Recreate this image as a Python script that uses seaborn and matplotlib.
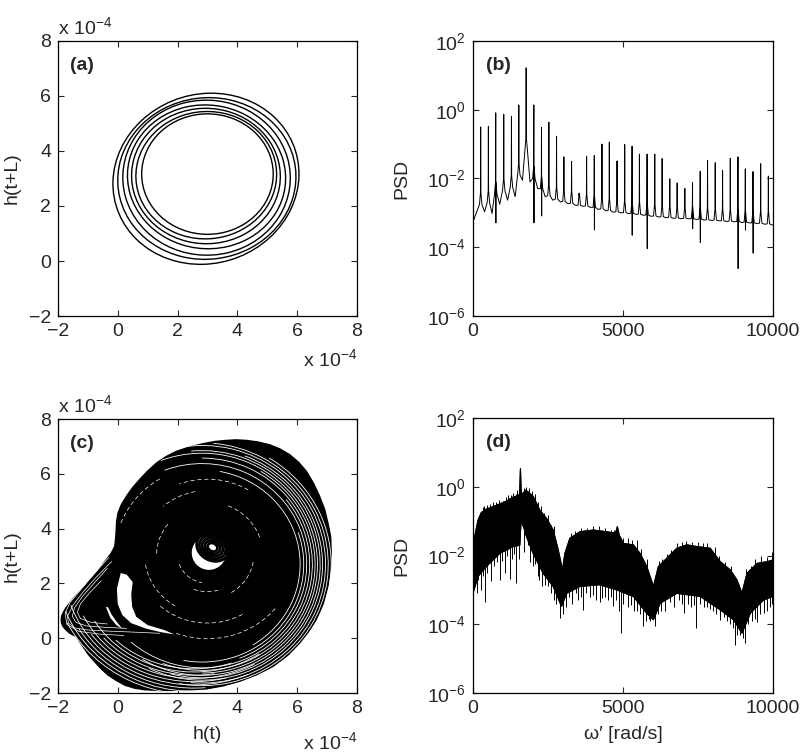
import numpy as np
import pandas as pd
import seaborn as sns
import matplotlib
matplotlib.use("Agg")
import matplotlib.pyplot as plt
from matplotlib.patches import Ellipse, Arc, Polygon
from matplotlib.ticker import FixedLocator, FuncFormatter, NullLocator

# ---------------- data (phase portraits in units of 1e-4) ----------------
# (a) quasi-periodic loops: centre, half-widths, tilt
a_cx = [2.95, 2.98, 2.97, 2.97, 2.95, 2.96, 3.00]
a_cy = [2.99, 3.00, 3.03, 3.06, 3.09, 3.12, 3.16]
a_rx = [3.20, 3.00, 2.80, 2.66, 2.49, 2.36, 2.20]
a_ry = [3.02, 2.92, 2.82, 2.60, 2.46, 2.31, 2.19]
a_ang = [45, 30, 15, -30, -15, 20, 0]

# (b) periodic PSD: line frequencies, line tops, feet (log10)
b_peak_f = [256, 512, 757, 1024, 1281, 1526, 1771, 2027, 2283, 2528,
            2784, 3029, 3285, 3541, 3786, 4042, 4298, 4543, 4800, 5056,
            5301, 5546, 5802, 6058, 6303, 6559, 6804, 7060, 7316, 7572,
            7817, 8073, 8318, 8575, 8831, 9076, 9332, 9588, 9844]
b_peak_top = [-0.50, -0.48, -0.09, -0.13, -0.20, 0.14, 1.22, 0.14, -0.52, -0.36,
              -0.77, -1.37, -1.50, -2.49, -1.35, -1.33, -1.00, -0.94, -1.49, -1.01,
              -1.06, -1.29, -1.29, -1.29, -1.42, -2.01, -2.13, -2.29, -2.12, -1.79,
              -1.47, -1.54, -1.76, -1.41, -1.37, -1.72, -1.80, -1.57, -1.93]
b_foot = [-2.75, -2.70, -2.45, -2.35, -2.25, -1.90, -1.15, -2.00, -2.30, -2.50,
          -2.60, -2.67, -2.72, -2.78, -2.80, -2.84, -2.88, -2.93, -2.97, -2.99,
          -3.01, -3.04, -3.06, -3.09, -3.11, -3.13, -3.15, -3.16, -3.17, -3.18,
          -3.20, -3.21, -3.23, -3.24, -3.25, -3.27, -3.29, -3.30, -3.32]
# baseline between lines (start, 38 gaps, end)
b_trough = [-3.26, -2.97, -3.02, -2.75, -2.63, -2.53, -2.05, -2.10, -2.29, -2.53,
            -2.63, -2.68, -2.73, -2.78, -2.81, -2.84, -2.90, -2.94, -2.98, -3.00,
            -3.02, -3.04, -3.07, -3.10, -3.12, -3.14, -3.16, -3.17, -3.17, -3.19,
            -3.21, -3.22, -3.23, -3.25, -3.26, -3.28, -3.29, -3.31, -3.33, -3.36]
b_dip_f = [757, 2027, 2283, 4042, 5301, 5802, 7316, 7572, 8831, 9076, 9332]
b_dip = [-3.29, -3.29, -3.09, -3.50, -3.65, -4.04, -3.46, -3.86, -4.62, -3.50, -4.17]

# (c) chaotic attractor: silhouette of the dense region
c_edge_x = [7.14, 7.12, 7.03, 6.92, 6.75, 6.55, 6.31, 6.05, 5.75, 5.42, 5.08, 4.70,
            4.30, 3.95, 3.63, 3.25, 2.85, 2.40, 1.96, 1.60, 1.29, 1.00, 0.73, 0.50,
            0.29, 0.12, 0.01, -0.04, -0.05, -0.07, -0.10,
            -0.22, -0.38, -0.55, -0.72, -0.95, -1.16, -1.40, -1.61, -1.75, -1.83,
            -1.88, -1.89, -1.88, -1.83, -1.73, -1.61, -1.50, -1.39,
            -1.28, -1.16, -0.98, -0.77, -0.56, -0.33, -0.05, 0.23, 0.55, 0.90, 1.45,
            1.96, 2.46, 2.96, 3.52, 4.08, 4.65, 5.19, 5.68, 6.08, 6.38, 6.64, 6.87,
            7.03, 7.11]
c_edge_y = [3.11, 3.70, 4.20, 4.70, 5.18, 5.65, 6.09, 6.42, 6.70, 6.91, 7.06, 7.16,
            7.22, 7.24, 7.22, 7.18, 7.10, 6.98, 6.82, 6.62, 6.39, 6.10, 5.79, 5.50,
            5.18, 4.87, 4.57, 4.25, 3.96, 3.65, 3.35,
            3.10, 2.87, 2.62, 2.38, 2.10, 1.83, 1.55, 1.28, 1.08, 0.92,
            0.80, 0.68, 0.55, 0.43, 0.30, 0.19, 0.12, 0.07,
            -0.12, -0.31, -0.60, -0.86, -1.11, -1.34, -1.54, -1.71, -1.82, -1.88, -1.91,
            -1.90, -1.88, -1.85, -1.74, -1.57, -1.33, -1.03, -0.63, -0.18, 0.24, 0.68, 1.25,
            1.89, 2.50]
# white crescent inside the fold
c_cres_x = [0.10, -0.03, 0.00, 0.15, 0.45, 0.95, 1.45, 1.90, 1.55, 1.00, 0.62, 0.48,
            0.45, 0.50, 0.30]
c_cres_y = [2.38, 1.80, 1.25, 0.85, 0.55, 0.35, 0.22, 0.14, 0.30, 0.48, 0.78, 1.15,
            1.60, 2.05, 2.32]
c_sliv_x = [-0.40, -0.25, -0.05, 0.15, -0.02, -0.20, -0.32]
c_sliv_y = [1.15, 0.75, 0.48, 0.35, 0.58, 0.85, 1.12]
# white gaps between loops of the main spiral (radii about one centre)
c_ring_r = [4.32, 4.22, 4.13, 4.03, 3.95, 3.86, 3.78, 3.69, 3.60, 3.50, 3.40, 3.28]
c_ring_t1 = [-80, -100, -95, -115, -105, -120, -90, -110, -130, -70, -100, -60]
c_ring_t2 = [60, 85, 100, 70, 95, 110, 60, 90, 40, 110, 20, 80]
# white gaps in the lower-left band of loops
c_low_r = [4.70, 4.58, 4.46, 4.34, 4.22, 4.10, 3.98, 3.86, 3.74]
c_low_t1 = [205, 200, 210, 198, 215, 205, 220, 210, 225]
c_low_t2 = [280, 290, 275, 295, 285, 300, 280, 305, 290]
# short white gaps in the dense interior: radius, start/end angle
c_in_gap_r = [1.00, 1.30, 1.55, 1.85, 2.10, 2.40, 2.65, 2.95, 3.10, 2.25, 1.70]
c_in_gap_t1 = [200, 250, 300, 20, 190, 230, 60, 250, 120, 100, 140]
c_in_gap_t2 = [260, 290, 350, 70, 240, 300, 110, 320, 160, 130, 180]
# white strands in the fold
c_lobe_x = [[-0.20, -0.70, -1.15, -1.50, -1.68, -1.65, -1.45, -1.00, -0.30, 0.60, 1.40],
            [-0.35, -0.80, -1.20, -1.45, -1.52, -1.40, -1.05, -0.45, 0.30],
            [-0.55, -0.95, -1.25, -1.35, -1.25, -0.90, -0.35],
            [-0.30, -0.75, -1.10, -1.60, -1.76, -1.70, -1.30, -0.60, 0.20]]
c_lobe_y = [[2.80, 2.25, 1.70, 1.20, 0.80, 0.55, 0.38, 0.30, 0.26, 0.22, 0.18],
            [2.55, 2.00, 1.50, 1.10, 0.80, 0.58, 0.45, 0.40, 0.36],
            [2.10, 1.65, 1.25, 0.95, 0.72, 0.58, 0.52],
            [2.95, 2.40, 1.95, 1.30, 0.90, 0.50, 0.25, 0.15, 0.10]]
# inner small spiral
c_in_r = [0.52, 0.43, 0.34, 0.25, 0.16]

# (d) broadband PSD: upper and lower envelope (log10)
d_up_f = [0, 56, 167, 278, 445, 668, 891, 1114, 1336, 1503, 1555, 1581, 1605, 1648,
          1750, 1837, 2004, 2227, 2450, 2673, 2840, 2984, 3062, 3229, 3563, 4009,
          4454, 4750, 4811, 4870, 5011, 5345, 5568, 5791, 6013, 6180, 6459, 6793,
          7127, 7461, 7906, 8241, 8575, 8797, 8964, 9131, 9465, 9800, 10000]
d_up = [-1.94, -1.45, -0.97, -0.75, -0.65, -0.58, -0.50, -0.42, -0.30, -0.26, -0.20,
        0.53, -0.15, -0.22, -0.10, -0.15, -0.28, -0.68, -0.92, -1.26, -1.84, -2.42,
        -1.94, -1.50, -1.31, -1.26, -1.31, -1.35, -1.16, -1.40, -1.65, -1.69, -1.94,
        -2.32, -2.90, -2.32, -2.08, -1.79, -1.69, -1.74, -1.79, -2.18, -2.42, -2.71,
        -3.10, -2.52, -2.23, -2.18, -2.13]
d_lo_f = [0, 167, 445, 891, 1336, 1560, 1600, 1700, 1782, 2004, 2339, 2673, 2951,
          3118, 3563, 4232, 4788, 5345, 5791, 6013, 6236, 6793, 7572, 8241, 8686,
          8964, 9243, 9688, 10000]
d_lo = [-3.10, -2.61, -2.32, -1.94, -1.74, -1.70, -1.00, -1.20, -1.45, -1.94, -2.52,
        -2.90, -3.48, -3.10, -2.90, -2.85, -3.00, -3.19, -3.68, -3.87, -3.39, -3.10,
        -3.19, -3.58, -3.87, -4.26, -3.68, -3.29, -3.19]
# downward spikes below the band
d_dn_f = [60, 134, 180, 250, 320, 390, 470, 600, 700, 800, 891, 950, 1050, 1120, 1225,
          1300, 1380, 1448, 1520, 1700, 1820, 1900, 2000, 2080, 2150, 2200, 2300, 2400,
          2506, 2584, 2700, 2780, 2895, 3000, 3100, 3200, 3300, 3420, 3500, 3600, 3675,
          3780, 3900, 4000, 4100, 4232, 4300, 4400, 4500, 4600, 4677, 4750, 4850, 4922,
          5000, 5150, 5250, 5350, 5450, 5550, 5679, 5750, 5850, 5900, 6069, 6150, 6250,
          6400, 6550, 6700, 6850, 6950, 7016, 7150, 7250, 7350, 7439, 7550, 7700, 7800,
          7900, 8000, 8100, 8241, 8350, 8450, 8550, 8650, 8742, 8800, 8900, 9000, 9076,
          9150, 9300, 9400, 9465, 9550, 9688, 9800, 9900, 9950]
d_dn = [-2.90, -3.10, -2.70, -3.00, -2.60, -3.34, -2.50, -2.75, -2.30, -2.20, -2.71,
        -2.15, -2.50, -2.00, -2.69, -2.10, -1.95, -2.81, -2.10, -1.90, -1.70, -2.20,
        -2.30, -2.25, -2.60, -2.70, -2.90, -2.85, -2.90, -3.10, -3.30, -3.40, -3.82,
        -3.70, -3.50, -3.20, -3.40, -3.10, -3.30, -3.20, -3.58, -3.10, -3.20, -3.15,
        -3.30, -3.34, -3.25, -3.20, -3.30, -3.20, -3.48, -3.30, -3.60, -4.26, -3.40,
        -3.50, -3.45, -3.60, -3.60, -3.70, -4.06, -3.90, -3.85, -3.90, -4.06, -3.70,
        -3.60, -3.60, -3.35, -3.50, -3.30, -3.40, -3.68, -3.40, -3.50, -3.45, -4.11,
        -3.40, -3.50, -3.50, -3.55, -3.60, -3.70, -3.87, -3.80, -3.90, -4.00, -4.10,
        -4.60, -4.30, -4.30, -4.40, -4.55, -4.00, -3.90, -3.85, -3.92, -3.70, -3.68,
        -3.60, -3.50, -3.40]
# small upward spikes above the band
d_upk_f = [100, 150, 230, 330, 380, 480, 560, 650, 750, 850, 1000, 1100, 1180, 1250,
           1330, 1420, 1480, 1700, 1780, 1870, 1950, 2050, 2150, 2250, 2380, 2500,
           2600, 2700, 3150, 3250, 3400, 3600, 3800, 4000, 4200, 4400, 4600, 4700,
           5000, 5150, 5300, 5450, 5600, 5800, 6200, 6300, 6450, 6600, 6800, 6950,
           7100, 7300, 7500, 7650, 7800, 8050, 8200, 8400, 8600, 9100, 9250, 9400,
           9600, 9800, 9950]
d_upk = [-1.30, -1.05, -0.75, -0.60, -0.55, -0.52, -0.50, -0.45, -0.45, -0.38, -0.40,
         -0.30, -0.25, -0.25, -0.18, -0.20, -0.10, -0.05, -0.02, -0.05, -0.12, -0.20,
         -0.45, -0.55, -0.75, -0.82, -1.10, -1.15, -1.60, -1.35, -1.30, -1.20, -1.20,
         -1.15, -1.15, -1.20, -1.25, -1.25, -1.50, -1.50, -1.55, -1.55, -1.80, -2.10,
         -2.15, -2.10, -1.95, -1.85, -1.65, -1.60, -1.58, -1.60, -1.60, -1.65, -1.65,
         -1.75, -2.00, -2.20, -2.30, -2.40, -2.30, -2.10, -2.00, -2.05, -1.90]

# ---------------- style ----------------
sns.set_style("ticks")
plt.rcParams["font.family"] = ["Liberation Sans", "DejaVu Sans"]
plt.rcParams["mathtext.fontset"] = "custom"
plt.rcParams["mathtext.rm"] = "Liberation Sans"
plt.rcParams["mathtext.it"] = "Liberation Sans:italic"
plt.rcParams["mathtext.bf"] = "Liberation Sans:bold"
plt.rcParams["axes.linewidth"] = 0.9
FS = 14

fig = plt.figure(figsize=(8.05, 7.56), dpi=100)
ax_a = fig.add_axes([0.0720, 0.5820, 0.3714, 0.3638])
ax_b = fig.add_axes([0.5876, 0.5820, 0.3727, 0.3638])
ax_c = fig.add_axes([0.0720, 0.0833, 0.3714, 0.3624])
ax_d = fig.add_axes([0.5876, 0.0833, 0.3727, 0.3638])

for ax in (ax_a, ax_b, ax_c, ax_d):
    ax.tick_params(direction="in", top=True, right=True, length=4, width=0.8,
                   labelsize=FS, pad=5)
    for s in ax.spines.values():
        s.set_color("black")


def phase_axes(ax):
    ax.set_xlim(-2, 8)
    ax.set_ylim(-2, 8)
    ax.set_xticks([-2, 0, 2, 4, 6, 8])
    ax.set_yticks([-2, 0, 2, 4, 6, 8])
    ax.set_ylabel("h(t+L)", fontsize=FS)
    ax.yaxis.set_label_coords(-0.125, 0.5)
    ax.text(0.0, 1.012, r"x 10$^{-4}$", transform=ax.transAxes, ha="left",
            va="bottom", fontsize=FS)


def psd_axes(ax):
    ax.set_yscale("log")
    ax.set_xlim(0, 10000)
    ax.set_ylim(1e-6, 1e2)
    ax.set_xticks([0, 5000, 10000])
    ax.yaxis.set_major_locator(FixedLocator([1e-6, 1e-4, 1e-2, 1e0, 1e2]))
    ax.yaxis.set_minor_locator(NullLocator())
    ax.yaxis.set_major_formatter(FuncFormatter(lambda v, p: r"10$^{%d}$" % round(np.log10(v))))


# ---------------- (a) ----------------
phase_axes(ax_a)
for cx, cy, rx, ry, an in zip(a_cx, a_cy, a_rx, a_ry, a_ang):
    ax_a.add_patch(Ellipse((cx, cy), 2 * rx, 2 * ry, angle=an, fill=False,
                           edgecolor="black", lw=1.0))
ax_a.text(0.04, 0.94, "(a)", transform=ax_a.transAxes, fontsize=FS,
          fontweight="bold", va="top")
ax_a.text(1.0, -0.118, r"x 10$^{-4}$", transform=ax_a.transAxes, ha="right",
          va="top", fontsize=FS)

# ---------------- (b) ----------------
bx, by = [0], [b_trough[0]]
dips = dict(zip(b_dip_f, b_dip))
for i, f in enumerate(b_peak_f):
    if i > 0:
        bx.append((b_peak_f[i - 1] + f) / 2)
        by.append(b_trough[i])
    bx += [f - 40, f - 6, f]
    by += [b_foot[i], b_foot[i] + 0.35, b_peak_top[i]]
    if f in dips:
        bx.append(f + 5)
        by.append(dips[f])
    bx += [f + 6, f + 40]
    by += [b_foot[i] + 0.35, b_foot[i]]
bx.append(10000)
by.append(b_trough[-1])
psd_b = pd.DataFrame({"w": bx, "psd": 10 ** np.array(by)})
psd_axes(ax_b)
sns.lineplot(data=psd_b, x="w", y="psd", ax=ax_b, sort=False, estimator=None,
             color="black", lw=0.7)
ax_b.set_xlabel("")
ax_b.set_ylabel("PSD", fontsize=FS)
ax_b.yaxis.set_label_coords(-0.208, 0.5)
ax_b.text(0.043, 0.94, "(b)", transform=ax_b.transAxes, fontsize=FS,
          fontweight="bold", va="top")

# ---------------- (c) ----------------
phase_axes(ax_c)
ax_c.add_patch(Polygon(np.column_stack([c_edge_x, c_edge_y]), closed=True,
                       facecolor="black", edgecolor="black", lw=1.0,
                       joinstyle="round", zorder=1))
for r, t1, t2 in zip(c_ring_r, c_ring_t1, c_ring_t2):
    ax_c.add_patch(Arc((2.82, 2.70), 2 * r, 2 * r * 1.05, theta1=t1, theta2=t2,
                       color="white", lw=0.6, zorder=2))
for r, t1, t2 in zip(c_low_r, c_low_t1, c_low_t2):
    ax_c.add_patch(Arc((2.55, 2.55), 2 * r, 2 * r * 0.98, theta1=t1, theta2=t2,
                       color="white", lw=0.6, zorder=2))
for r, t1, t2 in zip(c_in_gap_r, c_in_gap_t1, c_in_gap_t2):
    ax_c.add_patch(Arc((3.0, 3.05), 2 * r, 2 * r * 1.04, theta1=t1, theta2=t2,
                       color="white", lw=0.5, ls=(0, (6, 4)), zorder=2))
ax_c.add_patch(Polygon(np.column_stack([c_cres_x, c_cres_y]), closed=True,
                       facecolor="white", edgecolor="none", zorder=2))
ax_c.add_patch(Polygon(np.column_stack([c_sliv_x, c_sliv_y]), closed=True,
                       facecolor="white", edgecolor="none", zorder=2))
for lx, ly in zip(c_lobe_x, c_lobe_y):
    ax_c.plot(lx, ly, color="white", lw=0.5, zorder=2, solid_joinstyle="round")
ax_c.add_patch(Ellipse((3.05, 3.12), 1.15, 1.25, facecolor="white",
                       edgecolor="none", zorder=3))
for r in c_in_r:
    ax_c.add_patch(Ellipse((3.17, 3.32), 2.2 * r, 1.8 * r, angle=-40, fill=False,
                           edgecolor="black", lw=2.0, zorder=4))
ax_c.set_xlabel("h(t)", fontsize=FS)
ax_c.xaxis.set_label_coords(0.5, -0.12)
ax_c.text(0.04, 0.94, "(c)", transform=ax_c.transAxes, fontsize=FS,
          fontweight="bold", va="top", zorder=5)
ax_c.text(1.0, -0.14, r"x 10$^{-4}$", transform=ax_c.transAxes, ha="right",
          va="top", fontsize=FS)

# ---------------- (d) ----------------
psd_axes(ax_d)
band_f = list(d_up_f) + list(d_lo_f[::-1])
band_v = 10 ** np.array(list(d_up) + list(d_lo[::-1]))
ax_d.fill(band_f, band_v, color="black", lw=0.8)
env = pd.concat([pd.DataFrame({"w": d_up_f, "psd": 10 ** np.array(d_up), "edge": "up"}),
                 pd.DataFrame({"w": d_lo_f, "psd": 10 ** np.array(d_lo), "edge": "lo"})])
sns.lineplot(data=env, x="w", y="psd", units="edge", estimator=None, ax=ax_d,
             color="black", lw=0.8)
lo_at = np.interp(d_dn_f, d_lo_f, d_lo)
ax_d.vlines(d_dn_f, 10 ** np.array(d_dn), 10 ** (lo_at + 0.3), color="black", lw=0.7)
up_at = np.interp(d_upk_f, d_up_f, d_up)
ax_d.vlines(d_upk_f, 10 ** (up_at - 0.3), 10 ** np.array(d_upk), color="black", lw=0.7)
ax_d.set_xlabel("ω′ [rad/s]", fontsize=FS)
ax_d.xaxis.set_label_coords(0.5, -0.12)
ax_d.set_ylabel("PSD", fontsize=FS)
ax_d.yaxis.set_label_coords(-0.208, 0.5)
ax_d.text(0.043, 0.94, "(d)", transform=ax_d.transAxes, fontsize=FS,
          fontweight="bold", va="top")

fig.savefig("out.png", dpi=100)
